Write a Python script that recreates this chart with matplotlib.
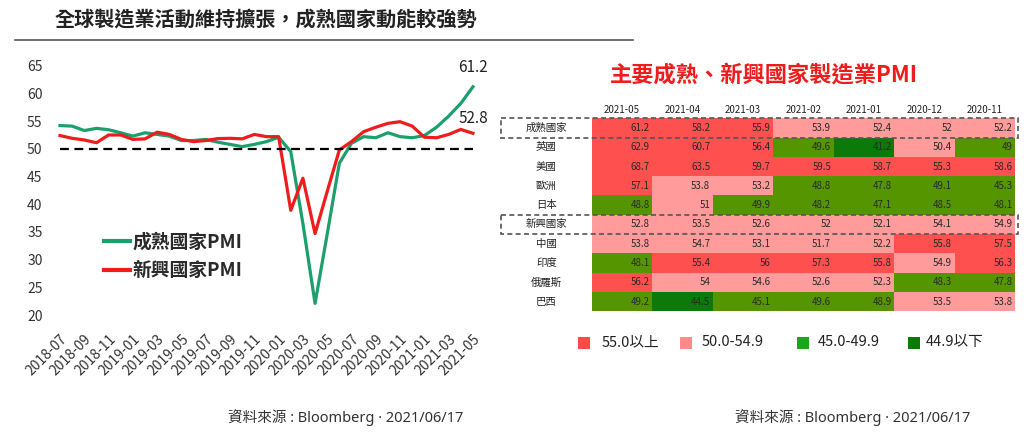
import matplotlib
matplotlib.use('Agg')
import matplotlib.pyplot as plt
from matplotlib.patches import Rectangle
import pandas as pd

plt.rcParams['font.family'] = ['Noto Sans CJK TC', 'DejaVu Sans']

# 左圖：PMI 月資料 2018-07 ~ 2021-05
months = pd.period_range('2018-07', '2021-05', freq='M').strftime('%Y-%m').tolist()
dm_pmi = [54.2, 54.1, 53.3, 53.7, 53.45, 52.9, 52.3, 52.9, 52.6, 52.3,
          51.5, 51.5, 51.7, 51.2, 50.8, 50.4, 50.8, 51.3, 52.1, 49.5,
          36.5, 22.1, 34.6, 47.4, 51.0, 52.2, 52.0, 52.9, 52.2, 52.0,
          52.4, 53.9, 55.9, 58.2, 61.2]
em_pmi = [52.4, 51.9, 51.6, 51.1, 52.5, 52.5, 51.7, 51.8, 53.0, 52.6,
          51.7, 51.3, 51.5, 51.85, 51.9, 51.8, 52.6, 52.2, 52.2, 38.9,
          44.7, 34.7, 42.3, 49.8, 51.3, 53.1, 53.9, 54.6, 54.9, 54.1,
          52.1, 52.0, 52.6, 53.5, 52.8]
y_ticks = [20, 25, 30, 35, 40, 45, 50, 55, 60, 65]

# 右表
tbl_cols = ['2021-05', '2021-04', '2021-03', '2021-02', '2021-01', '2020-12', '2020-11']
tbl_rows = ['成熟國家', '英國', '美國', '歐洲', '日本', '新興國家', '中國', '印度', '俄羅斯', '巴西']
tbl_vals = [
    [61.2, 58.2, 55.9, 53.9, 52.4, 52, 52.2],
    [62.9, 60.7, 56.4, 49.6, 41.2, 50.4, 49],
    [68.7, 63.5, 59.7, 59.5, 58.7, 55.3, 58.6],
    [57.1, 53.8, 53.2, 48.8, 47.8, 49.1, 45.3],
    [48.8, 51, 49.9, 48.2, 47.1, 48.5, 48.1],
    [52.8, 53.5, 52.6, 52, 52.1, 54.1, 54.9],
    [53.8, 54.7, 53.1, 51.7, 52.2, 55.8, 57.5],
    [48.1, 55.4, 56, 57.3, 55.8, 54.9, 56.3],
    [56.2, 54, 54.6, 52.6, 52.3, 48.3, 47.8],
    [49.2, 44.5, 45.1, 49.6, 48.9, 53.5, 53.8],
]
group_rows = ['成熟國家', '新興國家']
legend_labels = ['55.0以上', '50.0-54.9', '45.0-49.9', '44.9以下']
source = '資料來源 : Bloomberg · 2021/06/17'

W, H = 1024, 432
fig = plt.figure(figsize=(W / 100, H / 100), dpi=100)


def fx(px):
    return px / W


def fy(py):
    return 1 - py / H


GREEN = '#1d9f6c'
RED = '#ee1c1c'
SRC_FONT = ['Noto Sans', 'Noto Sans CJK TC']

# 標題
fig.text(fx(55), fy(19), '全球製造業活動維持擴張，成熟國家動能較強勢', fontsize=14.5,
         fontweight='bold', color='#222222', va='center', ha='left')
fig.add_artist(plt.Line2D([fx(15), fx(633)], [fy(40), fy(40)], color='#555555', lw=1.2))

# ---- 左圖 ----
ax = fig.add_axes([fx(55), fy(317.8), fx(480) - fx(55), fy(60.2) - fy(317.8)])
x = list(range(len(months)))
ax.plot(x, dm_pmi, color=GREEN, lw=2.3, label='成熟國家PMI')
ax.plot(x, em_pmi, color=RED, lw=2.3, label='新興國家PMI')
ax.plot([0, len(months) - 1], [50, 50], color='black', lw=1.6, ls=(0, (4, 2.5)))
ax.set_xlim(-0.41, 34.58)
ax.set_ylim(19.5, 66)
ax.set_yticks(y_ticks)
ax.set_xticks(x[::2])
ax.set_xticklabels(months[::2], rotation=45, ha='right', va='top',
                   rotation_mode='anchor', fontsize=10)
ax.tick_params(axis='both', length=0, labelsize=10, labelcolor='#333333')
ax.tick_params(axis='y', pad=9)
ax.tick_params(axis='x', pad=10)
for s in ax.spines.values():
    s.set_visible(False)
ax.annotate(f'{dm_pmi[-1]:.1f}', (x[-1], dm_pmi[-1]), xytext=(0, 14),
            textcoords='offset points', ha='center', va='center', fontsize=11, color='#222222')
ax.annotate(f'{em_pmi[-1]:.1f}', (x[-1], em_pmi[-1]), xytext=(0, 11),
            textcoords='offset points', ha='center', va='center', fontsize=11, color='#222222')
leg = ax.legend(loc='upper left', bbox_to_anchor=(0.075, 0.395), frameon=False,
                handlelength=1.4, handletextpad=0.15, labelspacing=0.5,
                prop={'size': 13.5, 'weight': 'bold'})
for t in leg.get_texts():
    t.set_color('#2a2a2a')
for h in leg.get_lines():
    h.set_linewidth(3)

fig.text(fx(463), fy(418), source, fontsize=10.5, family=SRC_FONT,
         color='#333333', ha='right', va='center')

# ---- 右表 ----
fig.text(fx(610), fy(75), '主要成熟、新興國家製造業PMI', fontsize=16, fontweight='bold',
         color=RED, ha='left', va='center')


def cell_color(v):
    if v >= 55:
        return '#ff5050'
    if v >= 50:
        return '#ff9b9b'
    if v >= 45:
        return '#559600'
    return '#0b7a0b'


legend_colors = ['#ff4a4a', '#ff8a8a', '#1aa61a', '#0b7a0b']

tx = fig.add_axes([fx(501), fy(311.3), fx(1018) - fx(501), fy(99) - fy(311.3)])
tx.set_xlim(-1.5, 7.05)
tx.set_ylim(len(tbl_rows), -1)
tx.axis('off')
for j, c in enumerate(tbl_cols):
    tx.text(j + 0.5, -0.45, c, ha='center', va='center', fontsize=7, color='#222222')
for i, name in enumerate(tbl_rows):
    tx.text(-0.75, i + 0.5, name, ha='center', va='center', fontsize=7.5, color='#222222')
    for j, v in enumerate(tbl_vals[i]):
        tx.add_patch(Rectangle((j, i), 1, 1, facecolor=cell_color(v), edgecolor='none'))
        tx.text(j + 0.96, i + 0.5, f'{v:g}', ha='right', va='center', fontsize=7,
                color='#2a2a2a')
    if name in group_rows:
        tx.add_patch(Rectangle((-1.5, i), 8.55, 1, facecolor='none', edgecolor='#555555',
                               lw=1.2, ls=(0, (3, 2)), zorder=5, clip_on=False))

# 表格圖例
sq_x = [578, 680, 797, 908]
txt_x = [602, 702, 818, 926]
for c, lab, sx, tx_ in zip(legend_colors, legend_labels, sq_x, txt_x):
    fig.add_artist(Rectangle((fx(sx), fy(349)), fx(12), 12 / H, facecolor=c,
                             edgecolor='none', transform=fig.transFigure))
    fig.text(fx(tx_), fy(342), lab, fontsize=10.5, color='#222222', ha='left', va='center')

fig.text(fx(970), fy(418), source, fontsize=10.5, family=SRC_FONT,
         color='#333333', ha='right', va='center')

fig.savefig('out.png', dpi=100, facecolor='white')
